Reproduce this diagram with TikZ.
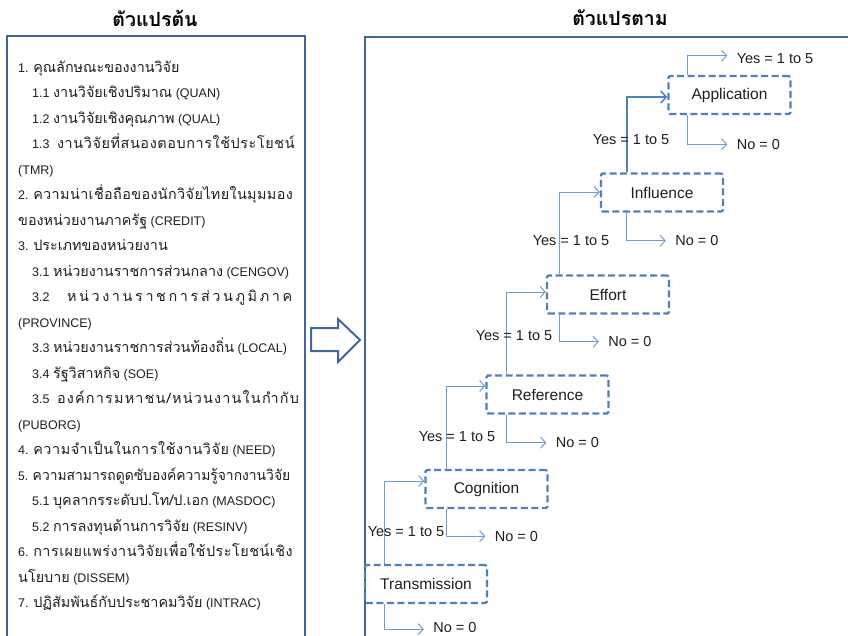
\documentclass[tikz,border=0pt]{standalone}
\usepackage{fontspec}
\setmainfont{Liberation Sans}
\newfontfamily\thaifont[Script=Thai,Scale=1.15]{Loma}
\newfontfamily\thaititle[Script=Thai]{Loma}
\usetikzlibrary{arrows.meta,calc}
\definecolor{frameblue}{HTML}{41679A}
\definecolor{nodeblue}{HTML}{4F81BD}
\definecolor{arrblue}{HTML}{6F9BD4}
\newcommand\thx[1]{{\thaifont #1}}
\newcommand\gap{\hspace{0pt plus 1fil}}
\tikzset{
  frame/.style={draw=frameblue, line width=2.4pt},
  varbox/.style={draw=nodeblue, line width=2.4pt, dash pattern=on 7pt off 3.5pt, rounded corners=1.5pt,
    minimum width=122pt, minimum height=38pt, inner sep=0pt, font=\fontsize{15.5}{18}\selectfont, text=black!88},
  conn/.style={draw=arrblue, line width=1pt, -{Straight Barb[length=5pt,width=11pt]}},
  connmain/.style={draw=nodeblue, line width=1.5pt, -{Straight Barb[length=5.5pt,width=12pt]}},
  lab/.style={font=\fontsize{14.5}{17}\selectfont, text=black!88, inner sep=0pt},
  lefttext/.style={anchor=base west, inner sep=0pt, font=\fontsize{12.5}{15}\selectfont, text=black!88},
  title/.style={font=\thaititle\bfseries\fontsize{19.5}{22}\selectfont, inner sep=0pt},
  blockarrow/.style={draw=frameblue, line width=2pt, line join=miter, fill=white}
}
\begin{document}
\begin{tikzpicture}[x=1pt,y=-1pt]
\clip (0,0) rectangle (848,635);
\fill[white] (0,0) rectangle (848,635);
% titles
\node[title] (t1) at (155,18) {ตัวแปรต้น};
\node[title] (t2) at (620,18) {ตัวแปรตาม};
% frames
\draw[frame] (7,660) -- (7,36) -- (305,36) -- (305,660);
\draw[frame] (365,660) -- (365,37) -- (870,37);
% block arrow
\draw[blockarrow] (311,328) -- (338,328) -- (338,319) -- (360,340) -- (338,362) -- (338,351) -- (311,351) -- cycle;
% left text
\node[lefttext] (l1) at (18,72) {1. \thx{คุณลักษณะของงานวิจัย}};
\node[lefttext] (l2) at (32,97.5) {1.1 \thx{งานวิจัยเชิงปริมาณ} (QUAN)};
\node[lefttext] (l3) at (32,123) {1.2 \thx{งานวิจัยเชิงคุณภาพ} (QUAL)};
\node[lefttext] (l4) at (32,148.5) {\makebox[263pt][l]{1.3\hspace{0.6em}\thaifont ง\gap า\gap น\gap วิ\gap จั\gap ย\gap ที่\gap ส\gap น\gap อ\gap ง\gap ต\gap อ\gap บ\gap ก\gap า\gap ร\gap ใ\gap ช้\gap ป\gap ร\gap ะ\gap โ\gap ย\gap ช\gap น์}};
\node[lefttext] (l5) at (18,174) {(TMR)};
\node[lefttext] (l6) at (18,199.5) {\makebox[275pt][l]{2. \thaifont ค\gap ว\gap า\gap ม\gap น่\gap า\gap เ\gap ชื่\gap อ\gap ถื\gap อ\gap ข\gap อ\gap ง\gap นั\gap ก\gap วิ\gap จั\gap ย\gap ไ\gap ท\gap ย\gap ใ\gap น\gap มุ\gap ม\gap ม\gap อ\gap ง}};
\node[lefttext] (l7) at (18,225) {\thx{ของหน่วยงานภาครัฐ} (CREDIT)};
\node[lefttext] (l8) at (18,250.5) {3. \thx{ประเภทของหน่วยงาน}};
\node[lefttext] (l9) at (32,276) {3.1 \thx{หน่วยงานราชการส่วนกลาง} (CENGOV)};
\node[lefttext] (l10) at (32,301.5) {\makebox[260pt][l]{3.2\hspace{1.4em}\thaifont ห\hfill น่\hfill ว\hfill ง\hfill า\hfill น\hfill ร\hfill า\hfill ช\hfill ก\hfill า\hfill ร\hfill ส่\hfill ว\hfill น\hfill ภู\hfill มิ\hfill ภ\hfill า\hfill ค}};
\node[lefttext] (l11) at (18,327) {(PROVINCE)};
\node[lefttext] (l12) at (32,352.5) {3.3 \thx{หน่วยงานราชการส่วนท้องถิ่น} (LOCAL)};
\node[lefttext] (l13) at (32,378) {3.4 \thx{รัฐวิสาหกิจ} (SOE)};
\node[lefttext] (l14) at (32,403.5) {\makebox[268pt][l]{3.5\hspace{0.6em}\thaifont อ\gap ง\gap ค์\gap ก\gap า\gap ร\gap ม\gap ห\gap า\gap ช\gap น\gap /\gap ห\gap น่\gap ว\gap น\gap ง\gap า\gap น\gap ใ\gap น\gap กำ\gap กั\gap บ}};
\node[lefttext] (l15) at (18,429) {(PUBORG)};
\node[lefttext] (l16) at (18,454.5) {\makebox[258pt][l]{4. {\thaifont ค\gap ว\gap า\gap ม\gap จำ\gap เ\gap ป็\gap น\gap ใ\gap น\gap ก\gap า\gap ร\gap ใ\gap ช้\gap ง\gap า\gap น\gap วิ\gap จั\gap ย} (NEED)}};
\node[lefttext] (l17) at (18,480) {\scalebox{0.965}[1]{5. \thx{ความสามารถดูดซับองค์ความรู้จากงานวิจัย}}};
\node[lefttext] (l18) at (32,505.5) {5.1 \thx{บุคลากรระดับป.โท/ป.เอก} (MASDOC)};
\node[lefttext] (l19) at (32,531) {5.2 \thx{การลงทุนด้านการวิจัย} (RESINV)};
\node[lefttext] (l20) at (18,556.5) {\makebox[275pt][l]{6. \thaifont ก\gap า\gap ร\gap เ\gap ผ\gap ย\gap แ\gap พ\gap ร่\gap ง\gap า\gap น\gap วิ\gap จั\gap ย\gap เ\gap พื่\gap อ\gap ใ\gap ช้\gap ป\gap ร\gap ะ\gap โ\gap ย\gap ช\gap น์\gap เ\gap ชิ\gap ง}};
\node[lefttext] (l21) at (18,582) {\thx{นโยบาย} (DISSEM)};
\node[lefttext] (l22) at (18,607.5) {7. \thx{ปฏิสัมพันธ์กับประชาคมวิจัย} (INTRAC)};
% variable boxes
\node[varbox] (app) at (729.5,95) {Application};
\node[varbox] (inf) at (662,192.5) {Influence};
\node[varbox] (eff) at (608,294.5) {Effort};
\node[varbox] (ref) at (547.5,394.5) {Reference};
\node[varbox] (cog) at (486.5,489) {Cognition};
\node[varbox] (tra) at (426,584) {Transmission};
% yes arrows (upward)
\draw[conn] ($(app.north west)+(20,0)$) |- ++(40,-19) node[lab, right=9pt, yshift=-3pt] (appyes) {Yes = 1 to 5};
\draw[connmain] ($(inf.north west)+(27,0)$) |- ($(app.west)+(0,2)$);
\draw[conn] ($(eff.north west)+(14,0)$) |- ($(inf.west)+(0,-0.5)$);
\draw[conn] ($(ref.north west)+(21,0)$) |- ($(eff.west)+(0,-2.5)$);
\draw[conn] ($(cog.north west)+(22,0)$) |- ($(ref.west)+(0,-8.5)$);
\draw[conn] ($(tra.north west)+(21,0)$) |- ($(cog.west)+(0,-8)$);
% yes labels
\node[lab] (yinf) at (631,140) {Yes = 1 to 5};
\node[lab] (yeff) at (571,241) {Yes = 1 to 5};
\node[lab] (yref) at (514,336) {Yes = 1 to 5};
\node[lab] (ycog) at (457,437) {Yes = 1 to 5};
\node[lab] (ytra) at (406,532) {Yes = 1 to 5};
% no arrows
\draw[conn] ($(app.south west)+(20,0)$) |- ++(40,29) node[lab, right=9pt] (appno) {No = 0};
\draw[conn] ($(inf.south west)+(27,0)$) |- ++(39,28) node[lab, right=9pt] (infno) {No = 0};
\draw[conn] ($(eff.south west)+(14,0)$) |- ++(39,27) node[lab, right=9pt] (effno) {No = 0};
\draw[conn] ($(ref.south west)+(21,0)$) |- ++(40,28) node[lab, right=9pt] (refno) {No = 0};
\draw[conn] ($(cog.south west)+(22,0)$) |- ++(39,27) node[lab, right=9pt] (cogno) {No = 0};
\draw[conn] ($(tra.south west)+(21,0)$) |- ++(39,25) node[lab, right=9pt, yshift=2pt] (trano) {No = 0};
\end{tikzpicture}
\end{document}
